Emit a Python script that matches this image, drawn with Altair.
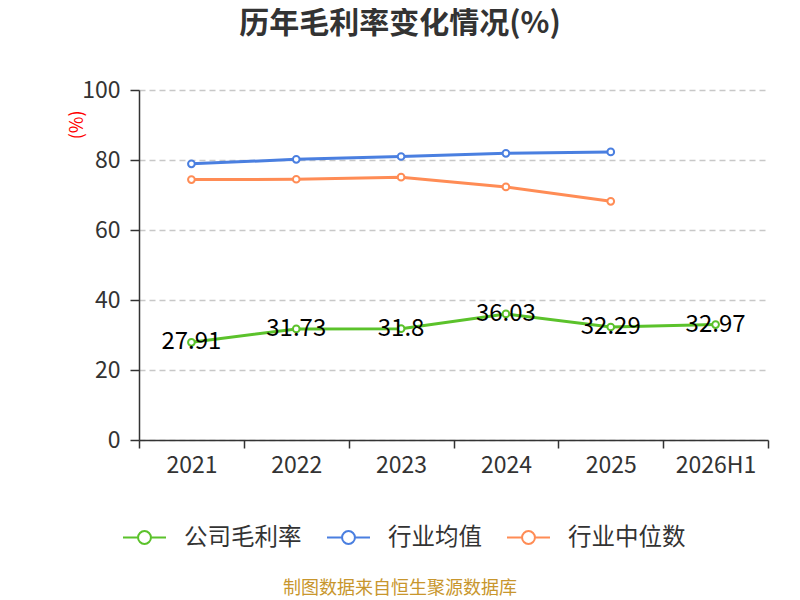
import altair as alt
import pandas as pd

years = ["2021", "2022", "2023", "2024", "2025", "2026H1"]
company = [27.91, 31.73, 31.8, 36.03, 32.29, 32.97]
ind_avg = [78.9, 80.2, 81.0, 81.9, 82.3, None]
ind_med = [74.4, 74.5, 75.1, 72.3, 68.2, None]
series_names = ["公司毛利率", "行业均值", "行业中位数"]
colors = ["#5bc22b", "#4a7fe0", "#ff8c55"]
title_text = "历年毛利率变化情况(%)"
footer_text = "制图数据来自恒生聚源数据库"

rows = []
for name, vals in zip(series_names, [company, ind_avg, ind_med]):
    for y, v in zip(years, vals):
        if v is not None:
            rows.append({"year": y, "series": name, "value": v, "label": f"{v:g}"})
df = pd.DataFrame(rows)

FONT = "Noto Sans CJK SC"

x = alt.X("year:N", sort=years, title=None,
          scale=alt.Scale(paddingInner=0, paddingOuter=0),
          axis=alt.Axis(labelAngle=0, tickBand="extent", labelFontSize=23,
                        labelColor="#333333", domainColor="#333333", domainWidth=1.5,
                        tickColor="#333333", tickWidth=1.5, tickSize=8, labelPadding=6,
                        grid=False, labelFont=FONT))
y = alt.Y("value:Q", title="(%)",
          scale=alt.Scale(domain=[0, 100], nice=False),
          axis=alt.Axis(values=[0, 20, 40, 60, 80, 100], labelFontSize=23,
                        labelColor="#333333", domainColor="#333333", domainWidth=1.5,
                        tickColor="#333333", tickWidth=1.5, tickSize=9, labelPadding=10,
                        grid=True, gridDash=[6, 4], gridColor="#c8c8c8", gridWidth=1.5,
                        titleColor="red", titleFontSize=18, titleFontWeight="normal",
                        titleAnchor="end", titleAlign="right", titleX=-53, titleY=20,
                        titleFont=FONT, labelFont=FONT))

legend_path = "M-1,0L-0.3,0M0.3,0L1,0M-0.3,0A0.3,0.3 0 1,1 0.3,0A0.3,0.3 0 1,1 -0.3,0"
color = alt.Color("series:N", scale=alt.Scale(domain=series_names, range=colors),
                  legend=alt.Legend(title=None, orient="none", direction="horizontal",
                                    legendX=-17, legendY=425,
                                    symbolType=legend_path,
                                    symbolSize=1849, symbolStrokeWidth=2, symbolFillColor="white",
                                    labelFontSize=23.5, labelColor="#333333", labelFont=FONT,
                                    columnPadding=21, labelOffset=17))

lines = alt.Chart(df).mark_line(strokeWidth=3).encode(x=x, y=y, color=color)
points = alt.Chart(df).mark_point(filled=True, fill="white", size=45, strokeWidth=2, opacity=1).encode(
    x=x, y=y, stroke=alt.Stroke("series:N", scale=alt.Scale(domain=series_names, range=colors), legend=None))
labels = alt.Chart(df[df.series == "公司毛利率"]).mark_text(fontSize=24, color="black", font=FONT,
                                                       baseline="middle").encode(
    x=x, y=y, text="label:N")
footer = alt.Chart(pd.DataFrame({"t": [footer_text]})).mark_text(
    fontSize=18, color="#c8962d", font=FONT, baseline="middle").encode(
    x=alt.value(261), y=alt.value(499), text="t:N")
title = alt.Chart(pd.DataFrame({"t": [title_text]})).mark_text(
    fontSize=30, fontWeight="bold", color="#333333", font=FONT, baseline="middle").encode(
    x=alt.value(261), y=alt.value(-66), text="t:N")

chart = alt.layer(lines, points, labels, footer, title).properties(
    width=629, height=350,
    autosize=alt.AutoSizeParams(type="none"),
    padding={"left": 131, "top": 82, "right": 24, "bottom": 168},
).configure_view(stroke=None)

chart.save("out.html", embed_options={"renderer": "svg", "actions": False})
